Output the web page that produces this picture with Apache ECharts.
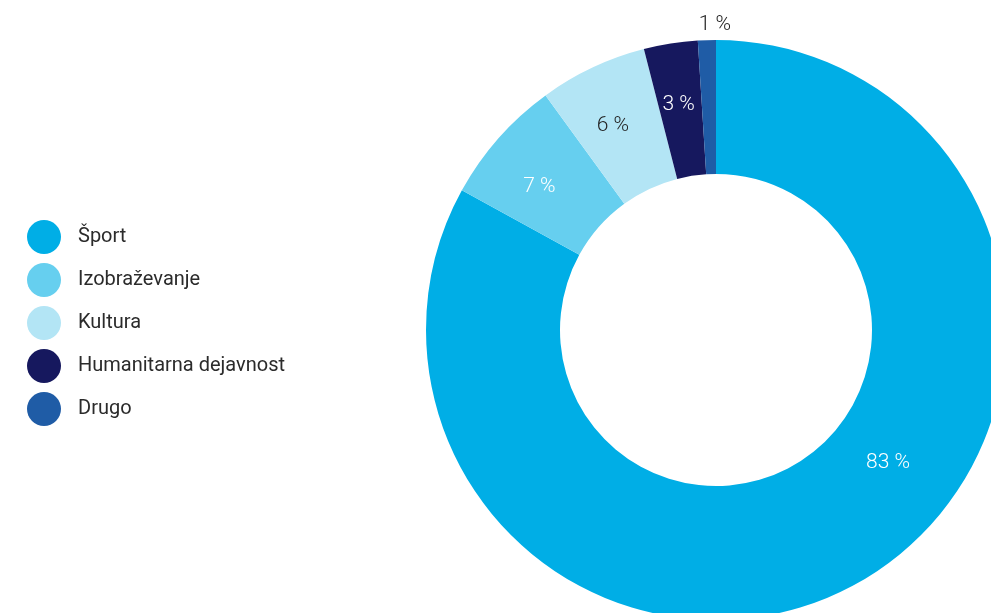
<!DOCTYPE html>
<html>
    <head>
        <meta charset="utf-8">
        <title>Področja</title>
        <style>
            html, body { margin: 0; padding: 0; background: #fff; }
            #chart1 { width: 991px; height: 613px; }
        </style>
    </head>
    <body>
        <div id="chart1"></div>
    </body>
    <script src="https://cdn.jsdelivr.net/npm/echarts@6/dist/echarts.min.js"></script>
    <script type="text/javascript">
        // podatki
        let categories = ['Šport', 'Izobraževanje', 'Kultura', 'Humanitarna dejavnost', 'Drugo'];
        let shares = [83, 7, 6, 3, 1];
        let colors = ['#00aee6', '#66cfef', '#b3e5f5', '#16185e', '#1f5ca6'];
        let labelColors = ['#ffffff', '#ffffff', '#222222', '#ffffff', '#222222'];
        // premik napisov od sredine izseka
        let labelShift = [[57, -62], [-7, 6], [-7, 0], [-2, -2], [6, -79]];

        let myChart1 = echarts.init(document.getElementById('chart1'));

        myChart1.setOption({
            animation: false,
            color: colors,
            legend: {
                orient: 'vertical',
                left: 22,
                top: 215,
                icon: 'circle',
                itemWidth: 34,
                itemHeight: 34,
                itemGap: 9,
                data: categories,
                textStyle: {
                    fontFamily: 'Roboto',
                    fontSize: 20,
                    color: '#2b2b2b',
                    padding: [0, 0, 0, 12]
                }
            },
            series: [{
                name: 'Področja',
                type: 'pie',
                center: [716, 330],
                radius: [156, 290],
                startAngle: 90,
                clockwise: true,
                avoidLabelOverlap: false,
                label: {
                    show: true,
                    position: 'inside',
                    fontFamily: 'Roboto',
                    fontWeight: 300,
                    fontSize: 21,
                    formatter: '{c} %'
                },
                labelLine: { show: false },
                emphasis: { disabled: true },
                labelLayout: function (params) {
                    let s = labelShift[params.dataIndex];
                    return { dx: s[0], dy: s[1] };
                },
                data: categories.map(function (name, i) {
                    return {
                        name: name,
                        value: shares[i],
                        label: { color: labelColors[i] }
                    };
                })
            }]
        });
    </script>
</html>
